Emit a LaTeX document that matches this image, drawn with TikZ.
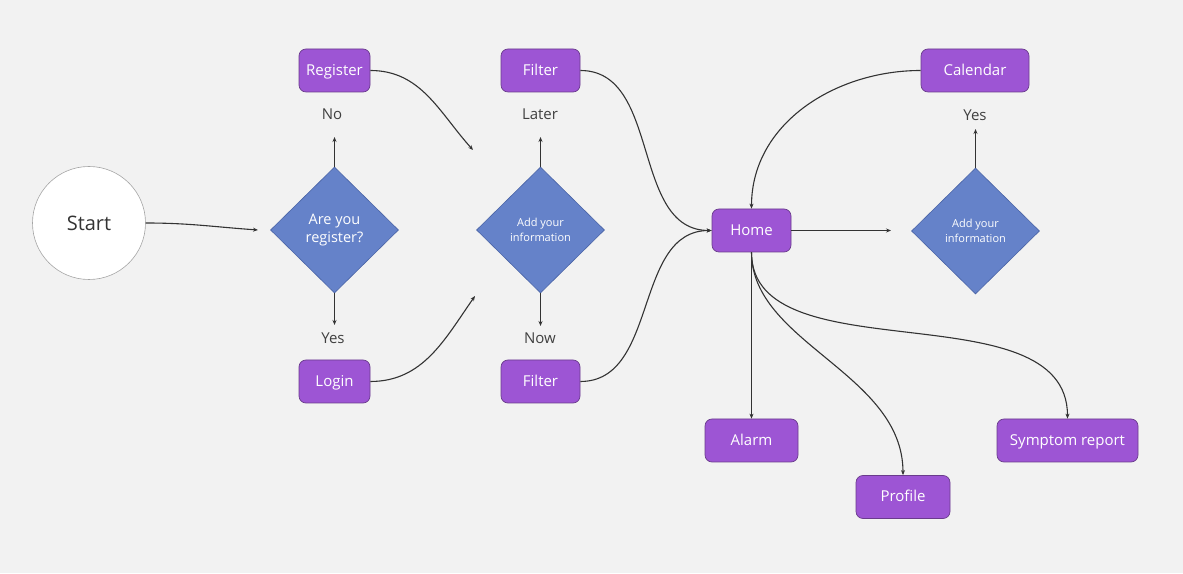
\documentclass[tikz,border=0pt]{standalone}
\usepackage{fontspec}
\setmainfont{Open Sans}
\usetikzlibrary{shapes.geometric,arrows.meta}
\definecolor{bg}{HTML}{F2F2F2}
\definecolor{purp}{HTML}{9D55D4}
\definecolor{purpb}{HTML}{6A3C8C}
\definecolor{dia}{HTML}{6582C9}
\definecolor{diab}{HTML}{4A64A6}
\definecolor{ink}{HTML}{333333}
\definecolor{lbl}{HTML}{404040}
\tikzset{
  box/.style={draw=purpb, fill=purp, rounded corners=7pt, minimum height=43pt, text=white, font=\fontsize{15}{17}\selectfont, inner sep=0pt, text height=12pt, text depth=2pt, line width=0.7pt},
  dec/.style={diamond, aspect=1, draw=diab, fill=dia, minimum width=128pt, minimum height=126pt, inner sep=0pt, text=white, align=center, line width=0.6pt},
  lab/.style={text=lbl, font=\fontsize{15}{17}\selectfont},
  conn/.style={draw=ink, line width=1.1pt, -{Stealth[length=5pt,width=4pt]}},
}
\begin{document}
\begin{tikzpicture}[x=1pt,y=1pt]
\fill[bg] (0,0) rectangle (1183,573);
\useasboundingbox (0,0) rectangle (1183,573);
% nodes
\node[circle, draw=gray!70, fill=white, minimum size=113pt, inner sep=0pt, text=ink, font=\fontsize{20}{24}\selectfont, line width=0.6pt] (start) at (89,350) {Start};
\node[dec, font=\fontsize{14.5}{18}\selectfont] (d1) at (334.5,343) {Are you\\register?};
\node[dec, font=\fontsize{11}{15}\selectfont] (d2) at (540.5,343) {Add your\\information};
\node[dec, font=\fontsize{11}{15}\selectfont] (d3) at (975.5,342) {Add your\\information};
\node[box, minimum width=71pt] (register) at (334.5,502.5) {Register};
\node[box, minimum width=71pt] (login) at (334.5,191.5) {Login};
\node[box, minimum width=79pt] (filter1) at (540.5,502.5) {Filter};
\node[box, minimum width=79pt] (filter2) at (540.5,191.5) {Filter};
\node[box, minimum width=79pt] (home) at (751.5,342.5) {Home};
\node[box, minimum width=108pt] (calendar) at (975,502.5) {Calendar};
\node[box, minimum width=93pt] (alarm) at (751.5,132.5) {Alarm};
\node[box, minimum width=94pt] (profile) at (903,76) {Profile};
\node[box, minimum width=141pt] (symptom) at (1067.5,132.5) {Symptom report};
% labels
\node[lab] (no) at (332,459) {No};
\node[lab] (yes1) at (333,235) {Yes};
\node[lab] (later) at (540,459) {Later};
\node[lab] (now) at (540,235) {Now};
\node[lab] (yes3) at (975,458) {Yes};
% free ends
\coordinate (c0) at (258,343);
\coordinate (cno) at (334.5,436);
\coordinate (cyes1) at (334.5,248);
\coordinate (clater) at (540.5,436);
\coordinate (cnow) at (540.5,247);
\coordinate (cyes3) at (975.5,444);
\coordinate (creg) at (473,423);
\coordinate (clog) at (475,277);
\coordinate (chome) at (891,342.5);
% connectors
\draw[conn] (start.east) to[out=0,in=176] (c0);
\draw[conn] (d1.north) -- (cno);
\draw[conn] (d1.south) -- (cyes1);
\draw[conn] (d2.north) -- (clater);
\draw[conn] (d2.south) -- (cnow);
\draw[conn] (d3.north) -- (cyes3);
\draw[conn] (register.east) to[out=0,in=132] (creg);
\draw[conn] (login.east) to[out=0,in=-125] (clog);
\draw[conn] (filter1.east) to[out=0,in=180] (home.west);
\draw[conn] (filter2.east) to[out=0,in=180] (home.west);
\draw[conn] (calendar.west) to[out=180,in=90] (home.north);
\draw[conn] (home.east) -- (chome);
\draw[conn] (home.south) -- (alarm.north);
\draw[conn] (home.south) .. controls (751.5,230) and (903,200) .. (profile.north);
\draw[conn] (home.south) .. controls (751.5,197) and (1067.5,285) .. (symptom.north);
\end{tikzpicture}
\end{document}
